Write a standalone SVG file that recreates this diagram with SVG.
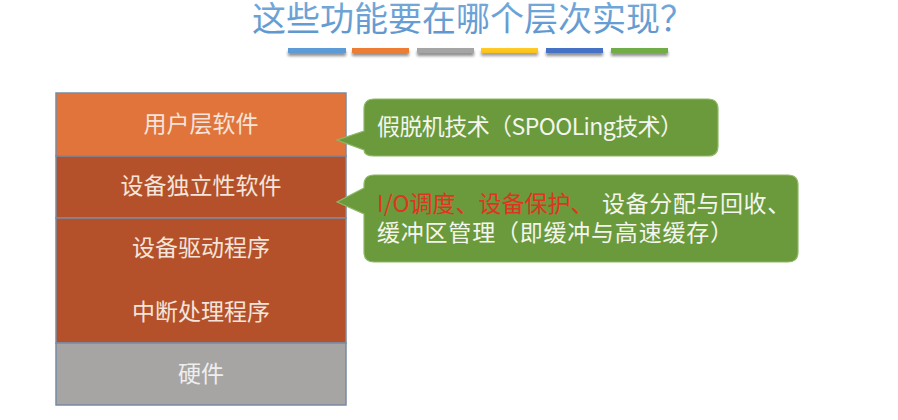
<svg xmlns="http://www.w3.org/2000/svg" width="898" height="420" viewBox="0 0 898 420">
  <defs>
    <linearGradient id="tg" x1="0" y1="0" x2="0" y2="1">
      <stop offset="0" stop-color="#7AAEDD"/>
      <stop offset="1" stop-color="#5A93CC"/>
    </linearGradient>
    <filter id="sh" x="-10%" y="-50%" width="120%" height="300%">
      <feGaussianBlur in="SourceAlpha" stdDeviation="1.5"/>
      <feOffset dy="2.5" result="b"/>
      <feComponentTransfer><feFuncA type="linear" slope="0.45"/></feComponentTransfer>
      <feMerge><feMergeNode/><feMergeNode in="SourceGraphic"/></feMerge>
    </filter>
  </defs>
  <style>
    .cjk { font-family: "Noto Sans CJK SC", "Noto Sans", sans-serif; }
    .lay { font-size: 23px; text-anchor: middle; fill: #F4E4DA; }
    .hw { fill: #EEEEEE; }
    .row { stroke: #7A8AA2; stroke-width: 1.5; }
    .bub { fill: #6A9A3B; stroke: #8DB866; stroke-width: 1.2; }
    .bt { font-size: 23px; fill: #F3F5EE; }
    .red { fill: #E03421; }
  </style>
  <rect width="898" height="420" fill="#FFFFFF"/>

  <g id="title">
    <text x="252" y="31" class="cjk" font-size="34" fill="url(#tg)">这些功能要在哪个层次实现？</text>
    <g filter="url(#sh)">
      <rect x="288" y="48" width="58" height="5" fill="#5B9BD5"/>
      <rect x="352" y="48" width="57" height="5" fill="#ED7D31"/>
      <rect x="417" y="48" width="57" height="5" fill="#A5A5A5"/>
      <rect x="481" y="48" width="57" height="5" fill="#FFC000" fill-opacity="0.85"/>
      <rect x="546" y="48" width="57" height="5" fill="#4472C4"/>
      <rect x="611" y="48" width="57" height="5" fill="#70AD47"/>
    </g>
  </g>

  <g id="layer-user">
    <rect class="row" x="56" y="93" width="290" height="63" fill="#E1743B"/>
    <text class="cjk lay" x="201" y="132">用户层软件</text>
  </g>
  <g id="layer-indep">
    <rect class="row" x="56" y="156" width="290" height="62" fill="#B4512A"/>
    <text class="cjk lay" x="201" y="194">设备独立性软件</text>
  </g>
  <g id="layer-driver">
    <rect class="row" x="56" y="218" width="290" height="125" fill="#B4512A"/>
    <text class="cjk lay" x="201" y="256">设备驱动程序</text>
    <text class="cjk lay" x="201" y="320">中断处理程序</text>
  </g>
  <g id="layer-hw">
    <rect class="row" x="56" y="343" width="290" height="62" fill="#A6A5A4"/>
    <text class="cjk lay hw" x="201" y="382">硬件</text>
  </g>

  <g id="callout-spooling">
    <path class="bub" d="M374,99 H708 Q718,99 718,109 V146 Q718,156 708,156 H374 Q364,156 364,150 L337,140 L364,131 V109 Q364,99 374,99 Z"/>
    <text class="cjk bt" x="377" y="135" textLength="306" lengthAdjust="spacing">假脱机技术（SPOOLing技术）</text>
  </g>
  <g id="callout-indep">
    <path class="bub" d="M374,175 H788 Q798,175 798,185 V252 Q798,262 788,262 H374 Q364,262 364,252 V214 L337,202 L364,188 V185 Q364,175 374,175 Z"/>
    <text class="cjk bt" x="377" y="212"><tspan class="red">I/O调度、设备保护、</tspan><tspan x="602" letter-spacing="0.6">设备分配与回收、</tspan></text>
    <text class="cjk bt" x="377" y="241" textLength="356" lengthAdjust="spacing">缓冲区管理（即缓冲与高速缓存）</text>
  </g>
</svg>
